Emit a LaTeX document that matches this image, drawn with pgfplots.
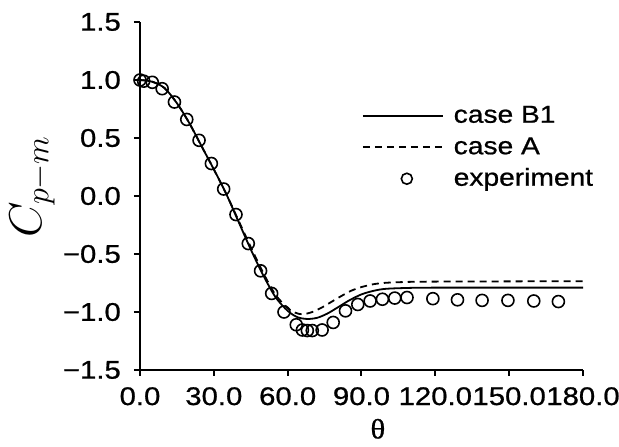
\RequirePackage{fix-cm}
\documentclass[border=0pt]{standalone}
\usepackage{fontspec}
\setmainfont{Liberation Sans}[FakeStretch=1.15, FakeBold=0.8]
\newfontfamily\seriffont{Liberation Serif}[FakeStretch=1.1, FakeBold=0.8]
\usepackage{pgfplots}
\pgfplotsset{compat=1.18}
\pgfplotsset{
  lineleg/.style={legend image code/.code={\draw[##1] (0pt,0pt) -- (80pt,0pt);}},
  markleg/.style={legend image code/.code={\draw[##1, mark size=5.5pt] plot coordinates {(44pt,0pt)};}},
}
\begin{document}
\begin{tikzpicture}
\useasboundingbox (-140pt,-77pt) rectangle (479pt,370pt);
\begin{axis}[
  at={(0pt,0pt)}, anchor=south west,
  scale only axis, width=443pt, height=348pt,
  xmin=0, xmax=180, ymin=-1.5, ymax=1.5,
  axis x line*=bottom, axis y line*=left,
  axis line style={line width=2.2pt},
  xtick={0,30,60,90,120,150,180},
  xticklabels={0.0,30.0,60.0,90.0,120.0,150.0,180.0},
  ytick={-1.5,-1,-0.5,0,0.5,1,1.5},
  yticklabels={−1.5,−1.0,−0.5,0.0,0.5,1.0,1.5},
  tick align=outside, major tick length=6pt,
  every tick/.style={line width=2pt, black},
  tick label style={font=\fontsize{25.5}{26}\selectfont},
  xticklabel style={inner sep=0pt, yshift=-11pt},
  yticklabel style={inner sep=0pt, xshift=-13pt},
  xlabel={\seriffont\fontsize{28}{28}\selectfont θ},
  xlabel style={at={(axis description cs:0.537,-0.169)}, anchor=center, inner sep=0pt},
  ylabel={\fontsize{46}{46}\selectfont $C_{p-m}$},
  ylabel style={at={(axis description cs:-0.243,0.527)}, anchor=center},
  legend style={draw=none, fill=none, inner sep=0pt, outer sep=0pt,
    at={(axis description cs:0.501,0.768)}, anchor=north west,
    font=\fontsize{24.5}{25}\selectfont,
    nodes={text height=20pt, text depth=6pt, inner sep=0pt, anchor=west},
    row sep=5.5pt, column sep=10pt},
  legend cell align=left,
]
\addplot[black, line width=1.8pt, smooth, tension=0.5, lineleg]
coordinates {
(0,1.0) (5,0.985) (10,0.93) (15,0.80) (20,0.63) (25,0.43) (30,0.23)
(35,0.02) (40,-0.22) (45,-0.46) (50,-0.68) (55,-0.87) (60,-0.99)
(64,-1.045) (68,-1.06) (72,-1.05) (76,-1.015) (80,-0.965) (85,-0.9)
(90,-0.848) (95,-0.817) (100,-0.80) (110,-0.792) (120,-0.79) (150,-0.79) (180,-0.79)
};
\addlegendentry{case B1}
\addplot[black, line width=1.8pt, dash pattern=on 7pt off 5pt, smooth, tension=0.5, lineleg]
coordinates {
(0,1.0) (5,0.985) (10,0.93) (15,0.80) (20,0.63) (25,0.43) (30,0.23)
(35,0.02) (40,-0.21) (45,-0.44) (50,-0.66) (55,-0.85) (60,-0.965)
(63,-1.005) (66,-1.02) (70,-1.0) (74,-0.96) (78,-0.91) (82,-0.86)
(86,-0.815) (90,-0.785) (95,-0.76) (100,-0.748) (110,-0.74) (120,-0.738) (150,-0.736) (180,-0.735)
};
\addlegendentry{case A}
\addplot[only marks, mark=o, mark size=6pt, black, mark options={line width=1.6pt}, markleg]
coordinates {
(0,1.0) (1.5,0.99) (5,0.98) (9,0.925) (14,0.81) (19,0.66) (24,0.48)
(29,0.28) (34,0.06) (39,-0.16) (44,-0.41) (49,-0.645) (53.5,-0.84)
(58.5,-1.0) (63.5,-1.11) (66,-1.155) (68,-1.16) (70,-1.16) (74,-1.155)
(78.5,-1.09) (83.5,-0.99) (88.5,-0.935) (93.5,-0.905) (98.5,-0.89)
(103.5,-0.88) (108.5,-0.875) (119,-0.885) (129,-0.895) (139,-0.9)
(149.5,-0.9) (160,-0.905) (170,-0.91)
};
\addlegendentry{experiment}
\end{axis}
\end{tikzpicture}
\end{document}
